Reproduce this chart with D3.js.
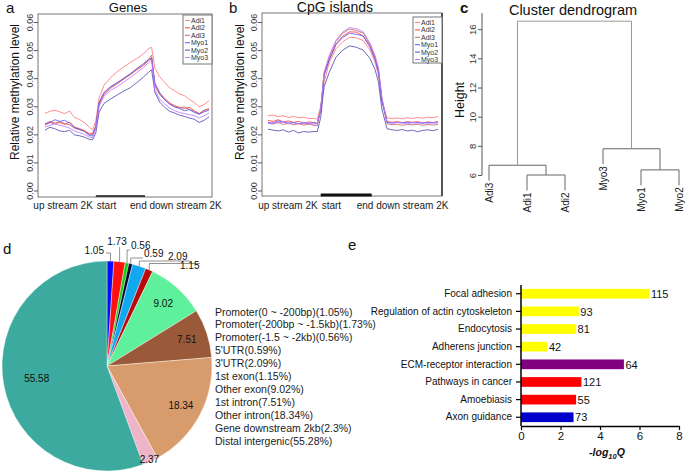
<!DOCTYPE html>
<html>
<head>
<meta charset="utf-8">
<script src="https://cdn.jsdelivr.net/npm/d3@7"></script>
<style>
  body { margin: 0; background: #fff; }
  svg text { font-family: "Liberation Sans", Arial, sans-serif; }
</style>
</head>
<body>
<svg id="fig" width="685" height="472"></svg>
<script>
// ---------- data ----------
const sampleNames = ["Adi1", "Adi2", "Adi3", "Myo1", "Myo2", "Myo3"];
const sampleColors = ["#ff7a7a", "#ff3b3b", "#c46a6a", "#5a5aff", "#5050b0", "#c07aff"];

// bin position along upstream 2K / body / downstream 2K (0-100)
const binPos = [0, 3, 6, 9, 12, 15, 18, 21, 24, 27, 29, 31, 33, 36, 40, 44, 48, 52, 56, 60, 63, 65,
                67, 70, 73, 76, 79, 82, 85, 88, 91, 94, 97, 100];
const bodyStart = 31, bodyEnd = 61;
const methylTicks = [0, 10, 20, 30, 40, 50, 60]; // x 10^-3

// methylation level x 10^-3, genes
const genesAdi1 = [27.5,28.2,28.6,28.0,27.4,28.3,26.0,25.3,24.2,22.6,21.6, 24.8,33.0,37.5,40.2,42.3,44.0,45.6,47.0,48.6,50.5,51.0, 43.5,40.5,38.5,36.6,35.5,34.4,33.8,32.4,31.4,29.8,30.6,32.0];
const genesAdi2 = [23.6,24.6,24.0,24.2,23.6,24.4,22.6,22.0,21.4,20.2,20.4, 23.0,31.2,34.6,36.8,38.2,39.8,41.2,43.0,44.6,46.2,47.0, 37.8,34.6,32.8,31.2,30.2,29.6,29.2,29.6,28.4,27.4,28.6,29.0];
const genesAdi3 = [23.2,24.2,23.6,24.6,23.8,23.4,22.2,21.6,21.2,19.8,20.0, 22.6,30.6,34.2,36.4,38.0,39.6,41.4,43.2,44.8,46.6,48.2, 37.2,34.0,32.4,30.8,29.8,29.4,29.8,28.8,28.2,27.2,28.4,29.2];
const genesMyo1 = [23.8,24.2,25.2,24.6,25.0,24.0,22.4,21.8,21.0,19.6,19.4, 22.8,31.4,35.0,37.0,38.4,40.0,41.6,43.4,45.2,46.6,47.2, 38.2,34.8,32.2,30.8,29.8,29.2,28.4,28.8,27.8,27.2,28.0,28.6];
const genesMyo2 = [21.5,22.5,22.0,21.2,21.0,21.4,19.8,19.5,19.0,18.2,18.0, 20.5,28.0,31.0,32.6,34.0,35.4,36.6,38.4,40.4,42.0,43.0, 35.0,31.4,29.6,28.2,27.6,26.8,26.4,25.8,25.4,24.2,25.0,26.2];
const genesMyo3 = [22.6,23.2,23.8,23.2,22.8,22.2,21.2,20.6,20.0,19.0,18.8, 22.0,30.0,33.6,35.6,37.0,38.6,40.2,42.0,43.8,45.4,46.4, 35.8,32.4,30.8,29.4,28.4,27.8,27.4,27.0,26.6,25.8,26.6,27.6];

// methylation level x 10^-3, CpG islands
const cpgAdi1 = [26.6,26.9,26.3,26.6,26.0,26.4,25.9,26.1,25.6,25.7,25.4, 30.0,38.5,45.5,50.5,53.0,54.5,54.4,53.4,50.0,45.6,41.0, 31.5,25.9,25.6,25.8,25.5,25.9,25.6,26.0,25.7,26.1,25.9,26.4];
const cpgAdi2 = [25.0,24.6,25.2,24.4,24.8,24.2,24.6,24.0,24.4,24.2,23.9, 28.5,41.0,46.5,52.0,55.0,56.5,56.4,55.0,51.5,47.0,42.5, 32.0,24.6,24.3,24.5,24.2,24.4,24.3,24.5,24.1,24.4,24.2,24.6];
const cpgAdi3 = [24.0,23.7,24.3,23.5,24.0,23.4,23.8,23.3,23.6,23.2,23.1, 29.0,42.0,47.5,53.0,56.0,57.5,57.0,56.0,52.0,47.5,43.0, 33.0,23.8,23.4,23.6,23.2,23.5,23.4,23.6,23.2,23.5,23.3,23.5];
const cpgMyo1 = [24.2,24.0,24.8,24.3,24.0,24.2,23.8,24.0,23.9,24.1,23.8, 28.5,41.0,46.5,52.0,54.5,56.0,55.6,55.0,51.0,46.5,42.0, 32.0,24.2,24.0,24.3,24.0,24.4,24.1,24.2,23.9,24.3,24.0,24.2];
const cpgMyo2 = [21.8,21.5,21.2,21.6,20.8,21.4,20.5,21.0,20.8,21.0,21.0, 26.0,37.0,42.0,47.5,50.0,51.5,51.0,50.0,47.0,43.0,38.5, 29.0,22.0,21.6,21.4,21.7,21.2,21.5,20.9,21.4,21.6,21.3,21.8];
const cpgMyo3 = [23.8,24.2,24.0,24.6,23.8,24.1,23.7,24.2,23.9,23.6,23.8, 29.0,42.0,48.0,53.5,56.5,58.0,57.6,56.5,52.5,48.0,43.5, 33.0,24.5,24.0,24.2,24.1,23.8,24.2,24.0,24.3,23.9,24.2,24.1];

// cluster dendrogram (hclust style)
const dendroMerge = [[-1, -2], [-3, 1], [-4, -5], [-6, 3], [2, 4]];
const dendroHeight = [6.0, 6.67, 6.35, 7.8, 16.55];
const dendroOrder = [3, 1, 2, 6, 4, 5];
const dendroTicks = [6, 8, 10, 12, 14, 16];

// genomic distribution pie
const pieValues = [1.05, 1.73, 0.56, 0.59, 2.09, 1.15, 9.02, 7.51, 18.34, 2.37, 55.58];
const pieLegend = ["Promoter(0 ~ -200bp)(1.05%)", "Promoter(-200bp ~ -1.5kb)(1.73%)", "Promoter(-1.5 ~ -2kb)(0.56%)",
  "5'UTR(0.59%)", "3'UTR(2.09%)", "1st exon(1.15%)", "Other exon(9.02%)", "1st intron(7.51%)",
  "Other intron(18.34%)", "Gene downstream 2kb(2.3%)", "Distal intergenic(55.28%)"];
const pieColors = ["#0a0aff", "#ff1010", "#10d010", "#0a0a30", "#10a8f0", "#b80a0a", "#5ef09a", "#9a5a3a", "#d89c6c", "#f0b4c8", "#3caa9e"];

// KEGG pathways
const pathways = ["Focal adhesion", "Regulation of actin cytoskeleton", "Endocytosis", "Adherens junction",
  "ECM-receptor interaction", "Pathways in cancer", "Amoebiasis", "Axon guidance"];
const pathwayLogQ = [6.5, 2.93, 2.79, 1.34, 5.21, 3.06, 2.79, 2.66];
const pathwayCounts = [115, 93, 81, 42, 64, 121, 55, 73];
const pathwayColors = ["#ffff00", "#ffff00", "#ffff00", "#ffff00", "#800080", "#ff0000", "#ff0000", "#0000cc"];
const logQTicks = [0, 2, 4, 6, 8];

// ---------- drawing ----------
const svg = d3.select("#fig");
const FONT = '"Liberation Sans", Arial, sans-serif';

function panelLetter(txt, x, y) {
  svg.append("text").attr("x", x).attr("y", y).attr("font-size", 15).attr("fill", "#111").text(txt);
}

function drawProfile(cfg) {
  let g = svg.append("g");
  let x = d3.scaleLinear().domain([0, 100]).range(cfg.lineRange);
  let y = d3.scaleLinear().domain([0, 60]).range([190.5, 22]);
  let [bx0, by0, bx1, by1] = cfg.box;

  let ax = g.append("g")
    .attr("transform", `translate(${bx0},0)`)
    .call(d3.axisLeft(y).tickValues(methylTicks).tickSize(4).tickFormat(d => (d / 1000).toFixed(2)));
  ax.attr("font-family", FONT).attr("font-size", 9);
  ax.select(".domain").remove();
  ax.selectAll("line").attr("stroke", "#555");
  ax.selectAll("text")
    .attr("transform", "rotate(-90)")
    .attr("x", 0).attr("y", -5).attr("dy", 0)
    .style("text-anchor", "middle")
    .attr("fill", "#333");

  let line = d3.line().x((d, i) => x(binPos[i])).y(d => y(d));
  cfg.series.forEach((s, i) => {
    g.append("path").attr("d", line(s))
      .attr("fill", "none").attr("stroke", sampleColors[i])
      .attr("stroke-width", 1).attr("opacity", 0.85);
  });

  g.append("rect").attr("x", bx0).attr("y", by0).attr("width", bx1 - bx0).attr("height", by1 - by0)
    .attr("fill", "none").attr("stroke", "#777").attr("stroke-width", 1);
  if (cfg.thickRight) {
    g.append("line").attr("x1", bx1).attr("x2", bx1).attr("y1", by0).attr("y2", by1)
      .attr("stroke", "#555").attr("stroke-width", 2);
  }

  // gene body bar
  g.append("line").attr("x1", x(bodyStart)).attr("x2", x(bodyEnd)).attr("y1", by1 - 1).attr("y2", by1 - 1)
    .attr("stroke", "#111").attr("stroke-width", cfg.barWidth);

  g.append("text").attr("x", x(bodyStart) - 3).attr("y", 209).attr("text-anchor", "end")
    .attr("font-size", 10).attr("fill", "#222").text("up stream 2K");
  g.append("text").attr("x", x(bodyStart) + 1).attr("y", 209)
    .attr("font-size", 10).attr("fill", "#222").text("start");
  g.append("text").attr("x", x(bodyEnd) - 15).attr("y", 209)
    .attr("font-size", 10).attr("fill", "#222").text("end down stream 2K");

  g.append("text").attr("transform", `translate(${cfg.ylabX},92) rotate(-90)`)
    .attr("text-anchor", "middle").attr("font-size", 12).attr("fill", "#111")
    .text("Relative methylation level");

  g.append("text").attr("x", cfg.titleX).attr("y", 12).attr("text-anchor", "middle")
    .attr("font-size", cfg.titleSize).attr("fill", "#111").text(cfg.title);

  // legend
  let [lx0, ly0, lx1, ly1] = cfg.legendBox;
  g.append("rect").attr("x", lx0).attr("y", ly0).attr("width", lx1 - lx0).attr("height", ly1 - ly0)
    .attr("fill", "#fff").attr("stroke", "#777");
  sampleNames.forEach((n, i) => {
    let yy = ly0 + 5.5 + i * 7.4;
    g.append("line").attr("x1", lx0 + 2).attr("x2", lx0 + 7).attr("y1", yy).attr("y2", yy)
      .attr("stroke", sampleColors[i]).attr("stroke-width", 1);
    g.append("text").attr("x", lx0 + 8).attr("y", yy + 2.4).attr("font-size", 7).attr("fill", "#333").text(n);
  });
}

drawProfile({
  box: [38, 14, 212, 197], lineRange: [45, 209], series: [genesAdi1, genesAdi2, genesAdi3, genesMyo1, genesMyo2, genesMyo3],
  title: "Genes", titleX: 128, titleSize: 13, ylabX: 19, legendBox: [183, 15, 212, 64], barWidth: 1.6, thickRight: false
});
drawProfile({
  box: [262, 13, 442, 196], lineRange: [268, 438], series: [cpgAdi1, cpgAdi2, cpgAdi3, cpgMyo1, cpgMyo2, cpgMyo3],
  title: "CpG islands", titleX: 335, titleSize: 14, ylabX: 244, legendBox: [413, 17, 442, 63], barWidth: 3, thickRight: true
});
panelLetter("a", 6, 13);
panelLetter("b", 229, 13);

// ---------- dendrogram ----------
(function () {
  let g = svg.append("g");
  let yD = d3.scaleLinear().domain([6, 16]).range([175, 29.2]);
  let xD = d3.scalePoint().domain(dendroOrder).range([489, 679]);
  let hang = 0.1 * (d3.max(dendroHeight) - d3.min(dendroHeight));

  // node positions
  let nodeX = [], nodeH = dendroHeight;
  function childPos(c, parentH) {
    if (c < 0) return { x: xD(-c), top: parentH - hang, leaf: -c };
    return { x: nodeX[c - 1], top: nodeH[c - 1] };
  }
  dendroMerge.forEach((m, i) => {
    let a = childPos(m[0], nodeH[i]), b = childPos(m[1], nodeH[i]);
    nodeX[i] = (a.x + b.x) / 2;
    let h = yD(nodeH[i]);
    g.append("path")
      .attr("d", `M${a.x},${yD(a.top)}V${h}H${b.x}V${yD(b.top)}`)
      .attr("fill", "none").attr("stroke", i === dendroMerge.length - 1 ? "#999" : "#666").attr("stroke-width", 1);
    [a, b].forEach(c => {
      if (c.leaf) {
        g.append("text")
          .attr("transform", `translate(${c.x},${yD(c.top) + 2}) rotate(-90)`)
          .attr("text-anchor", "end").attr("dy", "0.35em")
          .attr("font-size", 10).attr("fill", "#222")
          .text(sampleNames[c.leaf - 1]);
      }
    });
  });

  let ax = g.append("g").attr("transform", "translate(482,0)")
    .call(d3.axisLeft(yD).tickValues(dendroTicks).tickSize(4));
  ax.attr("font-family", FONT).attr("font-size", 9.5);
  ax.select(".domain").remove();
  ax.append("line").attr("x1", 0).attr("x2", 0).attr("y1", yD(17.1)).attr("y2", yD(6)).attr("stroke", "#555");
  ax.selectAll(".tick line").attr("stroke", "#555");
  ax.selectAll("text")
    .attr("transform", "rotate(-90)")
    .attr("x", 0).attr("y", -6).attr("dy", 0)
    .style("text-anchor", "middle").attr("fill", "#333");

  g.append("text").attr("transform", "translate(464,100) rotate(-90)").attr("text-anchor", "middle")
    .attr("font-size", 12.5).attr("fill", "#111").text("Height");
  g.append("text").attr("x", 573).attr("y", 15).attr("text-anchor", "middle")
    .attr("font-size", 14.5).attr("fill", "#111").text("Cluster dendrogram");
  svg.append("text").attr("x", 460).attr("y", 13).attr("font-size", 15).attr("font-weight", "bold").attr("fill", "#111").text("c");
})();

// ---------- pie ----------
(function () {
  let cx = 107, cy = 366, R = 105;
  let g = svg.append("g").attr("transform", `translate(${cx},${cy})`);
  let arcs = d3.pie().sort(null).value(d => d)(pieValues);
  let arc = d3.arc().innerRadius(0).outerRadius(R);

  g.selectAll("path.slice").data(arcs).enter().append("path")
    .attr("class", "slice")
    .attr("d", arc)
    .attr("fill", (d, i) => pieColors[i])
    .attr("stroke", "#fff").attr("stroke-width", 0.4);

  // inside labels for the larger slices
  arcs.forEach((d, i) => {
    if (i < 6) return;
    let a = (d.startAngle + d.endAngle) / 2;
    let r = d.value > 30 ? 0.68 * R : d.value < 3 ? 0.98 * R : 0.8 * R;
    g.append("text").attr("x", r * Math.sin(a)).attr("y", -r * Math.cos(a)).attr("dy", "0.35em")
      .attr("text-anchor", "middle").attr("font-size", 10).attr("fill", "#111")
      .text(d.value.toFixed(2));
  });

  // outside labels with leader lines for the small slices at the top
  const outsideLabels = [
    { tx: 104, ty: 254, anchor: "end", ly: 253, lx: 106 },
    { tx: 117, ty: 245, anchor: "middle", ly: 247, lx: null },
    { tx: 131, ty: 248.5, anchor: "start", ly: 250, lx: 130 },
    { tx: 144, ty: 256.5, anchor: "start", ly: 258, lx: 143 },
    { tx: 168, ty: 259.5, anchor: "start", ly: 261, lx: 190 },
    { tx: 180, ty: 269, anchor: "start", ly: 263.5, lx: 200 }
  ];
  outsideLabels.forEach((L, i) => {
    let d = arcs[i];
    let a = (d.startAngle + d.endAngle) / 2;
    let ex = cx + R * Math.sin(a), ey = cy - R * Math.cos(a);
    let pts = [[ex, ey], [ex, L.ly]];
    if (L.lx !== null) pts.push([L.lx, L.ly]);
    svg.append("path").attr("d", d3.line()(pts)).attr("fill", "none").attr("stroke", "#777").attr("stroke-width", 0.8);
    svg.append("text").attr("x", L.tx).attr("y", L.ty).attr("text-anchor", L.anchor)
      .attr("font-size", 10).attr("fill", "#111").text(d.value.toFixed(2));
  });

  // legend
  pieLegend.forEach((t, i) => {
    svg.append("text").attr("x", 215).attr("y", 315.5 + i * 12.93)
      .attr("font-size", 10.5).attr("fill", "#222").text(t);
  });
  panelLetter("d", 3, 254);
})();

// ---------- KEGG bar chart ----------
(function () {
  let g = svg.append("g");
  let x = d3.scaleLinear().domain([0, 8]).range([521, 679]);
  let y = d3.scaleBand().domain(pathways).range([285, 426]).paddingInner(0.45).paddingOuter(0.22);

  g.selectAll("rect.bar").data(pathways).enter().append("rect")
    .attr("class", "bar")
    .attr("x", x(0))
    .attr("y", d => y(d))
    .attr("width", (d, i) => x(pathwayLogQ[i]) - x(0))
    .attr("height", y.bandwidth())
    .attr("fill", (d, i) => pathwayColors[i]);

  g.selectAll("text.count").data(pathways).enter().append("text")
    .attr("class", "count")
    .attr("x", (d, i) => x(pathwayLogQ[i]) + 1.5)
    .attr("y", d => y(d) + y.bandwidth() / 2)
    .attr("dy", "0.38em")
    .attr("font-size", 11).attr("fill", "#111")
    .text((d, i) => pathwayCounts[i]);

  let yAx = g.append("g").attr("transform", `translate(${x(0)},0)`)
    .call(d3.axisLeft(y).tickSize(5).tickSizeOuter(0).tickPadding(4));
  yAx.attr("font-family", FONT).attr("font-size", 10);
  yAx.select(".domain").attr("stroke-width", 1.5).attr("d", "M0,285V426");
  yAx.selectAll("text").attr("fill", "#111");
  yAx.selectAll(".tick line").attr("stroke-width", 1.2);

  let xAx = g.append("g").attr("transform", "translate(0,426)")
    .call(d3.axisBottom(x).tickValues(logQTicks).tickSize(4).tickSizeOuter(0).tickPadding(2));
  xAx.attr("font-family", FONT).attr("font-size", 11.5);
  xAx.select(".domain").attr("stroke-width", 1.5);
  xAx.selectAll(".tick line").attr("stroke-width", 1.2);
  xAx.selectAll("text").attr("fill", "#111");

  let lab = g.append("text").attr("x", 607).attr("y", 456).attr("text-anchor", "middle")
    .attr("font-size", 10.5).attr("font-weight", "bold").attr("font-style", "italic").attr("fill", "#111");
  lab.append("tspan").text("-log");
  lab.append("tspan").attr("font-size", 7.5).attr("dy", 2.5).text("10");
  lab.append("tspan").attr("dy", -2.5).text("Q");

  panelLetter("e", 348, 250);
})();
</script>
</body>
</html>
